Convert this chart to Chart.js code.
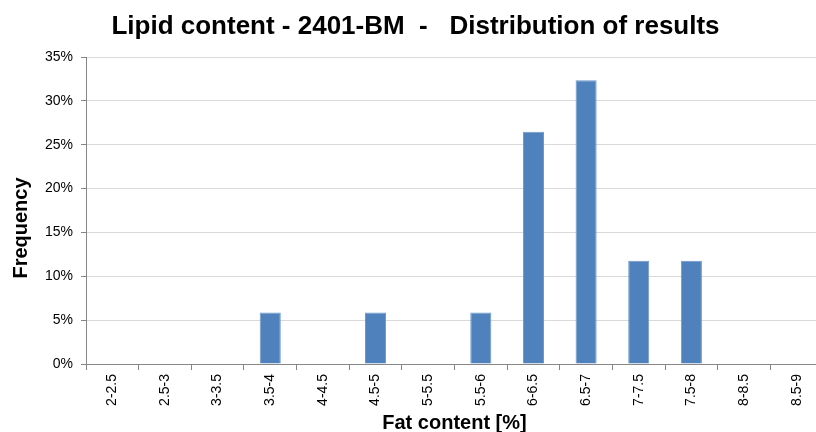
<!DOCTYPE html>
<html>
<head>
<meta charset="utf-8">
<script src="https://cdn.jsdelivr.net/npm/chart.js@4/dist/chart.umd.min.js"></script>
<style>
  html, body { margin: 0; padding: 0; background: #ffffff; overflow: hidden; }
  #wrap { width: 816px; height: 432px; overflow: hidden; }
  canvas { display: block; }
</style>
</head>
<body>
<div id="wrap"><canvas id="c" width="832" height="432"></canvas></div>
<script>
// Fat content classes (%) and share of results in each class
const categories = ['2-2.5', '2.5-3', '3-3.5', '3.5-4', '4-4.5', '4.5-5', '5-5.5',
                    '5.5-6', '6-6.5', '6.5-7', '7-7.5', '7.5-8', '8-8.5', '8.5-9'];
const frequency = [0, 0, 0, 5.88, 0, 5.88, 0, 5.88, 26.47, 32.35, 11.76, 11.76, 0, 0];
const yTicks = [0, 5, 10, 15, 20, 25, 30, 35];

const FONT = "'Liberation Sans', Arial, sans-serif";
const AXIS = '#868686';

// Vertical axis caption, centred on the full chart height
const yCaption = {
  id: 'yCaption',
  afterDraw(chart) {
    const ctx = chart.ctx;
    ctx.save();
    ctx.translate(21, 228);
    ctx.rotate(-Math.PI / 2);
    ctx.font = "bold 20px " + FONT;
    ctx.fillStyle = '#000000';
    ctx.textAlign = 'center';
    ctx.textBaseline = 'middle';
    ctx.fillText('Frequency', 0, 0);
    ctx.restore();
  }
};

new Chart(document.getElementById('c'), {
  type: 'bar',
  data: {
    labels: categories,
    datasets: [{
      data: frequency,
      backgroundColor: '#4F81BD',
      borderColor: '#6D97CB',
      borderWidth: 1,
      categoryPercentage: 1.0,
      barPercentage: 0.4
    }]
  },
  plugins: [yCaption],
  options: {
    responsive: false,
    animation: false,
    layout: { padding: { left: 8, right: 9, top: 0, bottom: 0 } },
    plugins: {
      legend: { display: false },
      tooltip: { enabled: false },
      title: {
        display: true,
        text: 'Lipid content - 2401-BM  -   Distribution of results',
        color: '#000000',
        font: { family: FONT, size: 26, weight: 'bold', lineHeight: 1.2 },
        padding: { top: 11, bottom: 14.8 }
      }
    },
    scales: {
      x: {
        grid: {
          display: true,
          drawOnChartArea: false,
          drawTicks: true,
          tickLength: 6,
          color: AXIS,
          offset: true
        },
        border: { display: true, color: AXIS, width: 1 },
        ticks: {
          color: '#000000',
          font: { family: FONT, size: 14 },
          minRotation: 90,
          maxRotation: 90,
          padding: 4,
          autoSkip: false
        },
        title: {
          display: true,
          text: 'Fat content [%]',
          color: '#000000',
          font: { family: FONT, size: 20, weight: 'bold' },
          padding: { top: 2, bottom: -3 }
        },
        afterFit: (scale) => { scale.height = 68; }
      },
      y: {
        min: 0,
        max: 35,
        afterBuildTicks: (scale) => { scale.ticks = yTicks.map(v => ({ value: v })); },
        grid: {
          color: '#D9D9D9',
          tickColor: AXIS,
          tickLength: 5,
          drawTicks: true
        },
        border: { display: true, color: AXIS, width: 1 },
        ticks: {
          color: '#000000',
          font: { family: FONT, size: 14 },
          padding: 8,
          callback: (v) => v + '%'
        },
        afterFit: (scale) => { scale.width = 78; }
      }
    }
  }
});
</script>
</body>
</html>
